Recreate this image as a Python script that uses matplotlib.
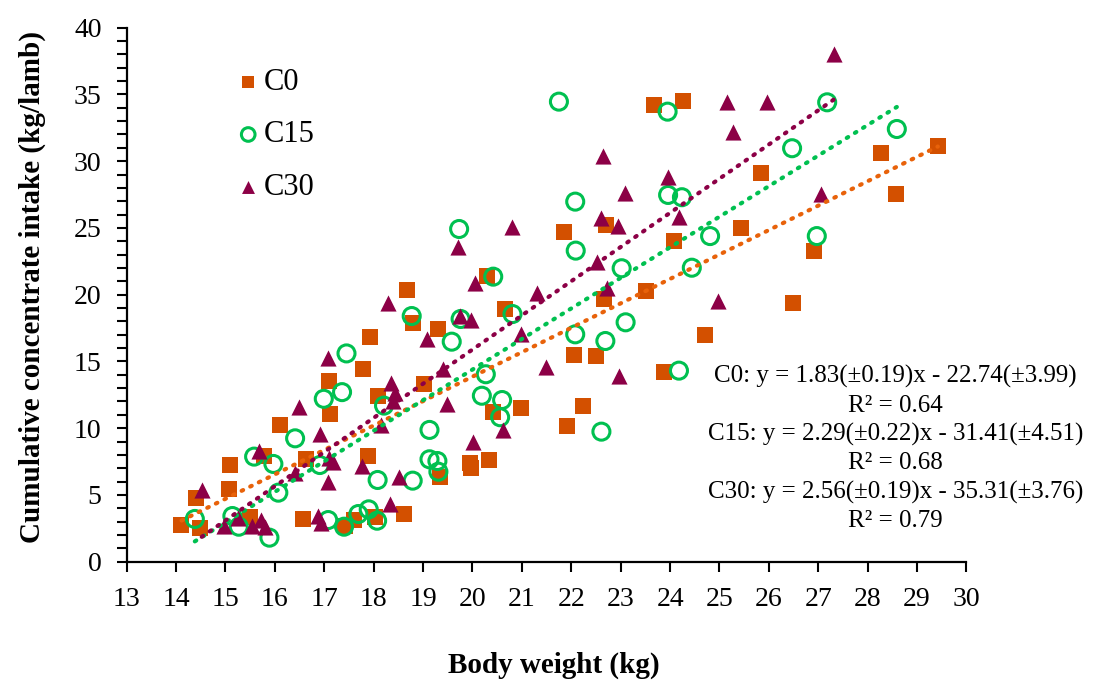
import numpy as np
import matplotlib.pyplot as plt

# ============================================================
# DATA
# ============================================================

c0_x = [14.11, 14.40, 14.48, 15.07, 15.09, 15.50, 15.78, 16.10, 16.56, 16.64,
        17.10, 17.12, 17.42, 17.60, 17.79, 17.89, 17.92, 18.03, 18.09, 18.61,
        18.67, 18.79, 19.02, 19.30, 19.34, 19.95, 19.98, 20.29, 20.34, 20.41,
        20.66, 20.99, 21.85, 21.91, 22.06, 22.24, 22.50, 22.66, 22.70, 23.51,
        23.68, 23.87, 24.07, 24.27, 24.71, 25.44, 25.85, 26.48, 26.91, 28.26,
        28.57, 29.42]
c0_y = [2.75, 4.75, 2.55, 5.45, 7.24, 3.37, 7.94, 10.24, 3.20, 7.69,
        13.50, 11.06, 2.67, 3.12, 14.43, 7.94, 16.85, 3.32, 12.43, 3.57,
        20.35, 17.90, 13.30, 17.43, 6.37, 7.37, 7.04, 21.42, 7.62, 11.24,
        18.93, 11.54, 24.72, 10.19, 15.48, 11.66, 15.43, 19.66, 25.22, 20.30,
        34.21, 14.19, 24.02, 34.53, 16.98, 25.02, 29.09, 19.40, 23.30, 30.64,
        27.54, 31.14]

c15_x = [14.38, 15.14, 15.27, 15.58, 15.89, 15.97, 16.07, 16.41, 16.91, 16.99,
         17.08, 17.36, 17.40, 17.45, 17.69, 17.90, 18.07, 18.08, 18.21, 18.77,
         18.79, 19.13, 19.13, 19.29, 19.31, 19.58, 19.73, 19.76, 20.19, 20.27,
         20.42, 20.56, 20.60, 20.81, 21.75, 22.08, 22.09, 22.08, 22.61, 22.69,
         23.02, 23.10, 23.95, 23.96, 24.18, 24.24, 24.44, 24.81, 26.47, 26.97,
         27.18, 28.59]
c15_y = [3.20, 3.42, 2.62, 7.87, 1.80, 7.32, 5.17, 9.24, 7.24, 12.20,
         3.12, 12.70, 2.62, 15.60, 3.57, 3.92, 3.07, 6.12, 11.69, 18.40,
         6.07, 9.87, 7.67, 7.54, 6.74, 16.48, 24.92, 18.18, 12.43, 14.04,
         21.35, 10.82, 12.11, 18.55, 34.46, 26.97, 23.30, 17.03, 9.74, 16.53,
         21.98, 17.93, 33.71, 27.47, 14.31, 27.30, 22.02, 24.39, 30.97, 24.39,
         34.41, 32.41]

c30_x = [14.52, 14.97, 15.26, 15.54, 15.68, 15.72, 15.80, 16.41, 16.49, 16.88,
         16.91, 16.93, 17.08, 17.08, 17.10, 17.17, 17.76, 18.14, 18.30, 18.34,
         18.36, 18.40, 18.43, 18.51, 19.07, 19.41, 19.48, 19.71, 19.75, 19.98,
         20.02, 20.06, 20.62, 20.80, 20.98, 21.30, 21.49, 22.53, 22.61, 22.65,
         22.72, 22.95, 22.97, 23.09, 23.95, 24.19, 24.96, 25.15, 25.28, 25.96,
         27.05, 27.32]
c30_y = [5.37, 2.70, 3.25, 2.70, 8.30, 3.12, 2.62, 6.62, 11.60, 3.42,
         9.60, 2.92, 15.23, 5.99, 7.74, 7.49, 7.19, 10.24, 19.36, 4.32,
         13.36, 12.06, 12.60, 6.32, 16.66, 14.43, 11.81, 23.60, 18.43, 18.10,
         8.94, 20.90, 9.87, 25.04, 17.03, 20.15, 14.56, 22.47, 25.77, 30.39,
         20.48, 25.17, 13.93, 27.60, 28.84, 25.84, 19.55, 34.46, 32.21, 34.46,
         27.52, 38.03]

# fitted lines shown on the chart: slope, intercept
FITS = {"C0": (1.83, -22.74), "C15": (2.29, -31.41), "C30": (2.56, -35.31)}

EQ_TEXT = ("C0: y = 1.83(\u00b10.19)x - 22.74(\u00b13.99)\n"
           "R\u00b2 = 0.64\n"
           "C15: y = 2.29(\u00b10.22)x - 31.41(\u00b14.51)\n"
           "R\u00b2 = 0.68\n"
           "C30: y = 2.56(\u00b10.19)x - 35.31(\u00b13.76)\n"
           "R\u00b2 = 0.79")

# ============================================================
# STYLE
# ============================================================

plt.rcParams["font.family"] = ["Liberation Serif", "DejaVu Serif"]

ORANGE = "#D35000"
GREEN = "#00C050"
PURPLE = "#8C0046"
LINE_ORANGE = "#E8620A"

fig = plt.figure(figsize=(11.15, 6.8), dpi=100)
ax = fig.add_axes([0.1136, 0.174, 0.7532, 0.7853])

series = [
    ("C0", c0_x, c0_y, dict(marker="s", color=ORANGE, s=135, linewidths=0), LINE_ORANGE),
    ("C15", c15_x, c15_y, dict(marker="o", facecolors="none", edgecolors=GREEN, s=150, linewidths=2.2), GREEN),
    ("C30", c30_x, c30_y, dict(marker="^", color=PURPLE, s=135, linewidths=0), PURPLE),
]

for name, xs, ys, kw, lc in series:
    ax.scatter(xs, ys, label=name, zorder=3, **kw)

for name, xs, ys, kw, lc in series:
    slope, icpt = FITS[name]
    xx = np.array([min(xs), max(xs)])
    ax.plot(xx, slope * xx + icpt, linestyle=(0, (0.4, 1.9)), dash_capstyle="round",
            color=lc, linewidth=3, zorder=4)

ax.set_xlim(13, 30)
ax.set_ylim(0, 40)
ax.set_xticks(np.arange(13, 31, 1))
ax.set_yticks(np.arange(0, 41, 5))
ax.set_yticks(np.arange(0, 41, 1), minor=True)
ax.tick_params(axis="both", which="both", direction="out", length=7, width=1.5,
               labelsize=20, colors="black")
ax.tick_params(axis="x", pad=11)
ax.tick_params(axis="y", pad=11)

for side in ["top", "right"]:
    ax.spines[side].set_visible(False)
for side in ["left", "bottom"]:
    ax.spines[side].set_linewidth(1.6)

ax.set_xlabel("Body weight (kg)", fontsize=21, fontweight="bold")
ax.set_ylabel("Cumulative concentrate intake (kg/lamb)", fontsize=21, fontweight="bold")
ax.xaxis.set_label_coords(0.509, -0.168)
ax.yaxis.set_label_coords(-0.096, 0.514)

ax.legend(loc="upper left", bbox_to_anchor=(0.112, 0.948), frameon=False, fontsize=22,
          labelspacing=0.78, handletextpad=0.0, handlelength=1.0, borderaxespad=0,
          markerscale=0.8)

fig.text(0.803, 0.463, EQ_TEXT, ha="center", va="top", fontsize=18, linespacing=1.37)

plt.savefig("out.png", dpi=100)
